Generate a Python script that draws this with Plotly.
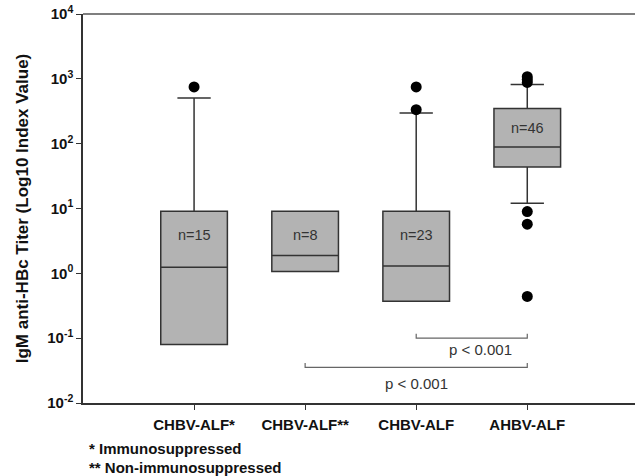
import math
import plotly.graph_objects as go

categories = ["CHBV-ALF*", "CHBV-ALF**", "CHBV-ALF", "AHBV-ALF"]
q1 = [0.08, 1.07, 0.37, 43.7]
median = [1.24, 1.88, 1.30, 89.0]
q3 = [9.05, 9.05, 9.05, 348.0]
lowerfence = [0.08, 1.07, 0.37, 12.1]
upperfence = [508.0, 9.05, 298.0, 817.0]
n_labels = ["n=15", "n=8", "n=23", "n=46"]
n_label_y = [3.86, 3.86, 3.86, 173.0]

outlier_x = [0, 2, 2, 3, 3, 3, 3, 3, 3]
outlier_y = [750, 750, 334, 1080, 980, 880, 8.95, 5.74, 0.44]

# significance brackets: (from category, to category, level, label, label x, label y)
brackets = [
    (2, 3, 0.1, "p < 0.001", 2.58, 0.068),
    (1, 3, 0.0355, "p < 0.001", 2.0, 0.020),
]
bracket_tick = 1.17

ytick_vals = [0.01, 0.1, 1, 10, 100, 1000, 10000]
ytick_text = ["<b>10<sup>-2</sup></b>", "<b>10<sup>-1</sup></b>", "<b>10<sup>0</sup></b>",
              "<b>10<sup>1</sup></b>", "<b>10<sup>2</sup></b>", "<b>10<sup>3</sup></b>",
              "<b>10<sup>4</sup></b>"]

FONT = "Liberation Sans, Arial, sans-serif"

fig = go.Figure()
fig.add_trace(go.Box(
    x=list(range(len(categories))),
    q1=q1, median=median, q3=q3,
    lowerfence=lowerfence, upperfence=upperfence,
    width=0.6, whiskerwidth=0.5,
    fillcolor="#b3b3b3",
    line=dict(color="#333333", width=1.5),
    boxpoints=False, showlegend=False,
))
fig.add_trace(go.Scatter(
    x=outlier_x, y=outlier_y, mode="markers",
    marker=dict(color="black", size=11), showlegend=False,
))
for a, b, lvl, lab, lx, ly in brackets:
    fig.add_trace(go.Scatter(
        x=[a, a, b, b], y=[lvl * bracket_tick, lvl, lvl, lvl * bracket_tick],
        mode="lines", line=dict(color="#666666", width=1.2), showlegend=False,
    ))
    fig.add_annotation(x=lx, y=math.log10(ly), text=lab, showarrow=False,
                       font=dict(family=FONT, size=15, color="#333333"))

for i, (t, yv) in enumerate(zip(n_labels, n_label_y)):
    fig.add_annotation(x=i, y=math.log10(yv), text=t, showarrow=False,
                       font=dict(family=FONT, size=14.5, color="#333333"))

fig.add_annotation(xref="paper", yref="paper", x=0.007, y=-0.1157,
                   xanchor="left", yanchor="middle",
                   text="<b>* Immunosuppressed</b>", showarrow=False,
                   font=dict(family=FONT, size=15, color="#111111"))
fig.add_annotation(xref="paper", yref="paper", x=0.007, y=-0.165,
                   xanchor="left", yanchor="middle",
                   text="<b>** Non-immunosuppressed</b>", showarrow=False,
                   font=dict(family=FONT, size=15, color="#111111"))

# top frame line
fig.add_shape(type="line", xref="paper", yref="paper", x0=0, x1=1.02, y0=1, y1=1,
              line=dict(color="#555555", width=1.5))

fig.update_layout(
    width=635, height=476,
    margin=dict(l=83, r=0, t=14, b=73, autoexpand=False),
    paper_bgcolor="white", plot_bgcolor="white",
    font=dict(family=FONT, color="#111111"),
    xaxis=dict(
        range=[-1, 3.97], tickmode="array",
        tickvals=list(range(len(categories))),
        ticktext=["<b>%s</b>" % c for c in categories],
        tickfont=dict(size=15, color="#111111"),
        showline=True, linecolor="#333333", linewidth=1.5,
        ticks="outside", ticklen=5, tickcolor="#333333",
        ticklabelstandoff=2,
        showgrid=False, zeroline=False,
    ),
    yaxis=dict(
        type="log", range=[-2, 4],
        tickmode="array", tickvals=ytick_vals, ticktext=ytick_text,
        tickfont=dict(size=15, color="#111111"),
        showline=True, linecolor="#333333", linewidth=1.5,
        ticks="outside", ticklen=5, tickcolor="#333333",
        showgrid=False, zeroline=False,
        title=dict(text="<b>IgM anti-HBc Titer (Log10 Index Value)</b>",
                   font=dict(size=17, color="#111111"), standoff=14),
    ),
)

fig.write_html(
    "out.html",
    post_script="document.documentElement.style.overflow='hidden';document.body.style.overflow='hidden';",
)
